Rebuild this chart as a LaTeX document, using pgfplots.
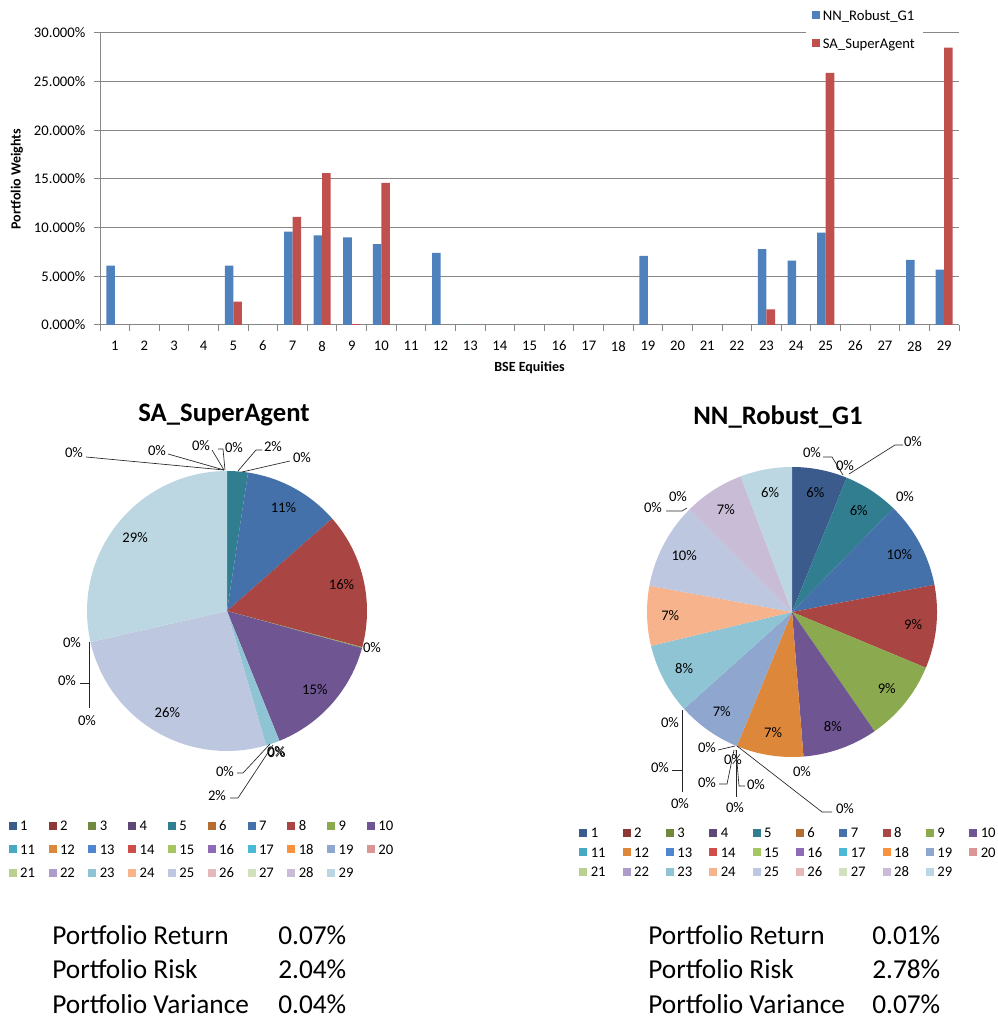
\documentclass[border=0pt]{standalone}
\usepackage{pgfplots}
\usepackage{pgfplotstable}
\pgfplotsset{compat=1.18}
\usepackage{fontspec}
\setmainfont{Carlito}

\definecolor{nnblue}{HTML}{4F81BD}
\definecolor{sared}{HTML}{C0504D}
\definecolor{gridgray}{HTML}{878787}
\definecolor{c1}{HTML}{3A5B8B}
\definecolor{c2}{HTML}{8C3836}
\definecolor{c3}{HTML}{71893F}
\definecolor{c4}{HTML}{5C4776}
\definecolor{c5}{HTML}{327E91}
\definecolor{c6}{HTML}{B66D31}
\definecolor{c7}{HTML}{4471A9}
\definecolor{c8}{HTML}{A94542}
\definecolor{c9}{HTML}{8BA94F}
\definecolor{c10}{HTML}{6F5591}
\definecolor{c11}{HTML}{46AAC5}
\definecolor{c12}{HTML}{DD873A}
\definecolor{c13}{HTML}{4F86CF}
\definecolor{c14}{HTML}{D04E4A}
\definecolor{c15}{HTML}{A5C663}
\definecolor{c16}{HTML}{8D6BB8}
\definecolor{c17}{HTML}{4BB8D6}
\definecolor{c18}{HTML}{F8923C}
\definecolor{c19}{HTML}{8FA6CF}
\definecolor{c20}{HTML}{D99694}
\definecolor{c21}{HTML}{B9D08F}
\definecolor{c22}{HTML}{AD9BC9}
\definecolor{c23}{HTML}{8FC4D4}
\definecolor{c24}{HTML}{F6B38C}
\definecolor{c25}{HTML}{BDC7DF}
\definecolor{c26}{HTML}{E5B9B9}
\definecolor{c27}{HTML}{D2E0BD}
\definecolor{c28}{HTML}{C9BCD6}
\definecolor{c29}{HTML}{BCD7E2}

\newcommand\tf{\fontsize{11}{13}\selectfont}
\newcommand\lblfont{\fontsize{11}{13}\selectfont}
\newcommand\btf{\fontsize{20.5}{24}\selectfont}

\pgfplotstableread{
cat nn sa
1 6.1 0
2 0 0
3 0 0
4 0 0
5 6.1 2.4
6 0 0
7 9.6 11.1
8 9.2 15.6
9 9.0 0.1
10 8.3 14.6
11 0 0
12 7.4 0
13 0 0
14 0 0
15 0 0
16 0 0
17 0 0
18 0 0
19 7.1 0
20 0 0
21 0 0
22 0 0
23 7.8 1.6
24 6.6 0
25 9.5 25.9
26 0 0
27 0 0
28 6.7 0
29 5.7 28.5
}\weights

% pie slices drawn from column #1 of the table
\newcommand{\drawpie}[1]{%
  \gdef\pietot{0}%
  \foreach \r in {0,...,28}{%
    \pgfplotstablegetelem{\r}{#1}\of\weights
    \pgfmathparse{\pietot+\pgfplotsretval}\xdef\pietot{\pgfmathresult}}%
  \gdef\piecum{0}%
  \foreach \r in {0,...,28}{%
    \pgfplotstablegetelem{\r}{#1}\of\weights
    \let\slV\pgfplotsretval
    \pgfmathsetmacro{\slA}{90-\piecum/\pietot*360}%
    \pgfmathparse{\piecum+\slV}\xdef\piecum{\pgfmathresult}%
    \pgfmathsetmacro{\slB}{90-\piecum/\pietot*360}%
    \pgfmathtruncatemacro{\slK}{\r+1}%
    \ifdim\slV pt>0pt
      \edef\temp{\noexpand\addplot[forget plot, fill=c\slK, draw=none, domain=\slB:\slA, samples=50] ({cos(x)},{sin(x)}) -- (axis cs:0,0) -- cycle;}%
      \temp
    \fi
    \ifdim\slV pt>3pt
      \pgfmathsetmacro{\slM}{(\slA+\slB)/2}%
      \pgfmathsetmacro{\slX}{0.84*cos(\slM)}%
      \pgfmathsetmacro{\slY}{0.84*sin(\slM)}%
      \pgfmathtruncatemacro{\slP}{round(\slV/\pietot*100)}%
      \edef\temp{\noexpand\node[font=\noexpand\lblfont] at (axis cs:\slX,\slY) {\slP\noexpand\%};}%
      \temp
    \fi
  }%
}

\begin{document}
\begin{tikzpicture}
\useasboundingbox (0,0) rectangle (747.75pt,764.25pt);

% ---------------- bar chart ----------------
\begin{axis}[
  at={(75pt,520.5pt)}, anchor=south west,
  scale only axis, width=644.25pt, height=219pt,
  ybar=0pt, bar width=6.4pt,
  xmin=0.5, xmax=29.5, ymin=0, ymax=30,
  xtick={0.5,1.5,...,29.5}, x tick label as interval,
  xticklabels={1,2,3,4,5,6,7,8,9,10,11,12,13,14,15,16,17,18,19,20,21,22,23,24,25,26,27,28,29},
  ytick={0,5,10,15,20,25,30},
  axis x line*=bottom, axis y line*=left,
  axis line style={-,gridgray,line width=0.75pt},
  tick align=outside, major tick length=4.5pt,
  tick style={gridgray, line width=0.75pt},
  ymajorgrids, grid style={gridgray, line width=0.75pt},
  /pgf/number format/assume math mode=true,
  yticklabel={\pgfmathprintnumber[fixed,fixed zerofill,precision=3]{\tick}\%},
  tick label style={font=\tf},
  yticklabel style={xshift=-3pt},
  xticklabel style={yshift=-4pt},
  xlabel={\bfseries BSE Equities},
  ylabel={\bfseries Portfolio Weights},
  label style={font=\fontsize{10.5}{12}\selectfont},
  x label style={at={(axis description cs:0.5,-0.147)}, anchor=center},
  y label style={at={(axis description cs:-0.0966,0.5)}, anchor=center},
  legend image code/.code={\fill[#1] (0pt,-3pt) rectangle (6pt,3pt);},
  legend style={at={(0.821,1.106)}, anchor=north west, draw=none, fill=white,
    font=\tf, inner sep=5pt, row sep=11.5pt,
    nodes={inner sep=1pt, text height=7.5pt, text depth=0pt},
    /tikz/every odd column/.append style={column sep=1pt}},
  legend cell align=left,
]
\addplot[fill=nnblue, draw=none] table[x=cat, y=nn]{\weights};
\addlegendentry{NN\_Robust\_G1}
\addplot[fill=sared, draw=none] table[x=cat, y=sa]{\weights};
\addlegendentry{SA\_SuperAgent}
\end{axis}

% ---------------- SA pie ----------------
\begin{axis}[
  at={(170.25pt,306pt)}, anchor=center,
  scale only axis, width=210pt, height=210pt,
  xmin=-1, xmax=1, ymin=-1, ymax=1,
  hide axis, clip=false,
  legend columns=10,
  legend image code/.code={\fill[#1] (0pt,-3pt) rectangle (6pt,3pt);},
  legend style={at={(-0.28,-0.243)}, anchor=north west, draw=none, fill=none,
    font=\tf, inner sep=0pt, row sep=8.1pt,
    nodes={inner sep=1pt, text height=7.5pt, text depth=0pt},
    /tikz/every odd column/.append style={column sep=1.5pt}},
  legend cell align=left,
]
\pgfplotsinvokeforeach{1,...,29}{\addlegendimage{fill=c#1, draw=none}\addlegendentry{\makebox[20.35pt][l]{#1}}}
\drawpie{sa}
\end{axis}

% ---------------- NN pie ----------------
\begin{axis}[
  at={(594pt,305.25pt)}, anchor=center,
  scale only axis, width=217.5pt, height=217.5pt,
  xmin=-1, xmax=1, ymin=-1, ymax=1,
  hide axis, clip=false,
  legend columns=10,
  legend image code/.code={\fill[#1] (0pt,-3pt) rectangle (6pt,3pt);},
  legend style={at={(-0.234,-0.238)}, anchor=north west, draw=none, fill=none,
    font=\tf, inner sep=0pt, row sep=5.1pt,
    nodes={inner sep=1pt, text height=7.5pt, text depth=0pt},
    /tikz/every odd column/.append style={column sep=1.5pt}},
  legend cell align=left,
]
\pgfplotsinvokeforeach{1,...,29}{\addlegendimage{fill=c#1, draw=none}\addlegendentry{\makebox[23pt][l]{#1}}}
\drawpie{nn}
\end{axis}

% ---------------- annotations in pixel units ----------------
\begin{scope}[shift={(0pt,764.25pt)}, x=0.75pt, y=-0.75pt,
  lf/.style={font=\lblfont, inner sep=0pt},
  ld/.style={black!85, line width=0.5pt}]
% titles
\node[anchor=base, font=\fontsize{20}{24}\selectfont\bfseries] at (224,422) {SA\_SuperAgent};
\node[anchor=base, font=\fontsize{20}{24}\selectfont\bfseries] at (778,425) {NN\_Robust\_G1};

% SA zero / small labels
\node[lf] at (74,453) {0\%};   \draw[ld] (86,457) -- (224,470);
\node[lf] at (157,451) {0\%};  \draw[ld] (168,454) -- (224,470);
\node[lf] at (201,446) {0\%};  \draw[ld] (212,450) -- (224,470);
\node[lf] at (234,448) {0\%};  \draw[ld] (218,449) -- (223,449) -- (225,470);
\node[lf] at (273,447) {2\%};  \draw[ld] (262,450) -- (256,450) -- (238,471);
\node[lf] at (302,458) {0\%};  \draw[ld] (290,461) -- (242,472);
\node[lf] at (372,648) {0\%};
\node[lf] at (276,752) {0\%};
\node[lf] at (276.6,752.3) {0\%};
\node[lf] at (225,772) {0\%};  \draw[ld] (237,773) -- (243,773) -- (270,744);
\node[lf] at (217,796) {2\%};  \draw[ld] (230,798) -- (238,798) -- (273,745);
\node[lf] at (72,643) {0\%};
\node[lf] at (67,681) {0\%};   \draw[ld] (80,683) -- (89,683);
\node[lf] at (87,721) {0\%};   \draw[ld] (89,642) -- (89,708);

% NN zero labels
\node[lf] at (812,453) {0\%};  \draw[ld] (823,457) -- (832,457) -- (843,475);
\node[lf] at (845,466) {0\%};
\node[lf] at (913,442) {0\%};  \draw[ld] (903,445) -- (895,445) -- (849,474);
\node[lf] at (905,497) {0\%};
\node[lf] at (653,508) {0\%};
\node[lf] at (678,497) {0\%};  \draw[ld] (666,511) -- (682,511) -- (687,508);
\node[lf] at (802,772) {0\%};
\node[lf] at (670,723) {0\%};  \draw[ld] (682,710) -- (682,792);
\node[lf] at (660,768) {0\%};  \draw[ld] (672,770) -- (682,770);
\node[lf] at (680,804) {0\%};
\node[lf] at (707,748) {0\%};  \draw[ld] (718,750) -- (735,746);
\node[lf] at (733,760) {0\%};
\node[lf] at (707,783) {0\%};  \draw[ld] (719,784) -- (727,784) -- (734,750);
\node[lf] at (756,785) {0\%};  \draw[ld] (745,786) -- (739,786) -- (736,750);
\node[lf] at (735,808) {0\%};  \draw[ld] (736,797) -- (736,750);
\node[lf] at (845,809) {0\%};  \draw[ld] (737,746) -- (822,812) -- (832,812);

% bottom statistics
\node[anchor=base west, font=\btf, inner sep=0pt] at (52,945) {Portfolio Return};
\node[anchor=base west, font=\btf, inner sep=0pt] at (278,945) {0.07\%};
\node[anchor=base west, font=\btf, inner sep=0pt] at (52,979) {Portfolio Risk};
\node[anchor=base west, font=\btf, inner sep=0pt] at (278,979) {2.04\%};
\node[anchor=base west, font=\btf, inner sep=0pt] at (52,1013) {Portfolio Variance};
\node[anchor=base west, font=\btf, inner sep=0pt] at (278,1013) {0.04\%};
\node[anchor=base west, font=\btf, inner sep=0pt] at (648,945) {Portfolio Return};
\node[anchor=base west, font=\btf, inner sep=0pt] at (872,945) {0.01\%};
\node[anchor=base west, font=\btf, inner sep=0pt] at (648,979) {Portfolio Risk};
\node[anchor=base west, font=\btf, inner sep=0pt] at (872,979) {2.78\%};
\node[anchor=base west, font=\btf, inner sep=0pt] at (648,1013) {Portfolio Variance};
\node[anchor=base west, font=\btf, inner sep=0pt] at (872,1013) {0.07\%};
\end{scope}
\end{tikzpicture}
\end{document}
